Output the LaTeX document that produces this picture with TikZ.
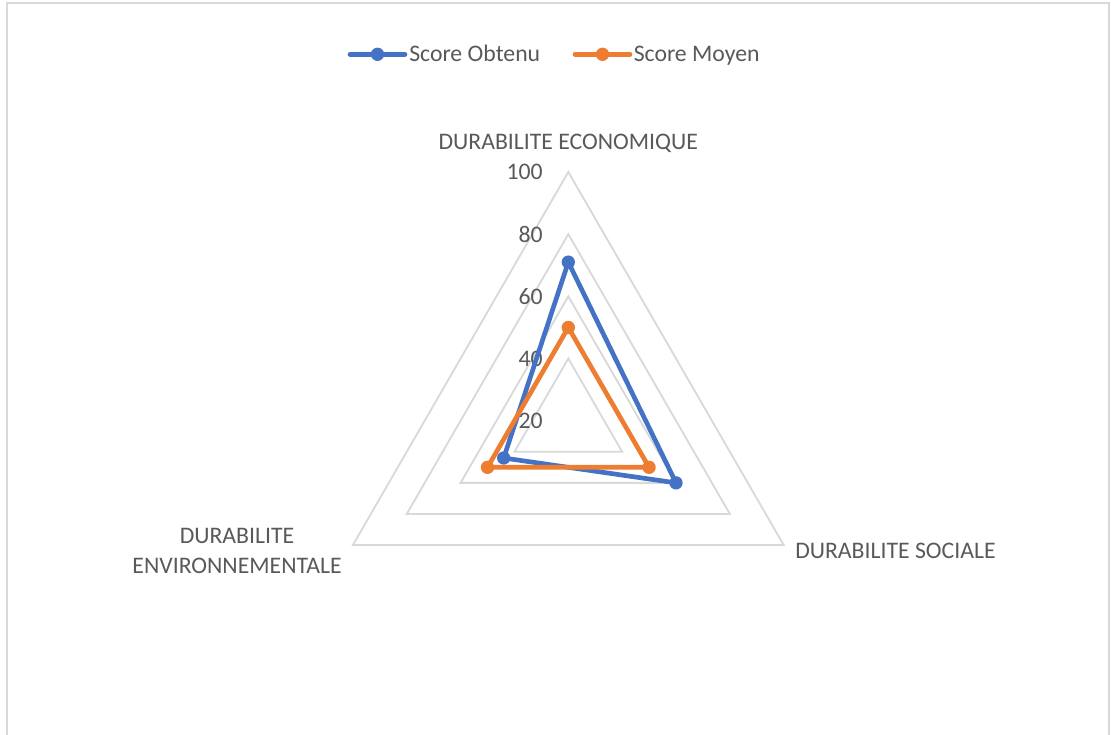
\documentclass[tikz,border=0pt]{standalone}
\usepackage{fontspec}
\setmainfont{Carlito}
\usetikzlibrary{calc}

\definecolor{obtenu}{HTML}{4472C4}
\definecolor{moyen}{HTML}{ED7D31}
\definecolor{grille}{HTML}{D9D9D9}
\definecolor{texte}{HTML}{595959}

\def\ech{3.109}

\begin{document}
\begin{tikzpicture}[x=0.75pt,y=0.75pt,
	lbl/.style={text=texte,font=\fontsize{17.8}{21}\selectfont,inner sep=0pt},
	ring/.style={draw=grille,line width=1.4pt,line join=miter},
	serie/.style={line width=3.5pt,line join=round,line cap=round}]

	\useasboundingbox (0,0) rectangle (1111,735);
	% frame, open at the bottom
	\draw[grille,line width=1.5pt] (7,-10) -- (7,731.7) -- (1109.3,731.7) -- (1109.3,-10);

	\coordinate (O) at (568.3,314.3);

	% grid
	\foreach \v in {40,60,80,100}
		\draw[ring,shift={(O)}] (90:{(\v-20)*\ech}) -- (-30:{(\v-20)*\ech}) -- (210:{(\v-20)*\ech}) -- cycle;
	\foreach \v in {20,40,...,100}
		\node[lbl,anchor=east] (t\v) at ($(O)+(-25.3,{(\v-20)*\ech})$) {\v};

	% axes
	\node[lbl,anchor=base] (eco) at (568.3,585) {DURABILITE ECONOMIQUE};
	\node[lbl,anchor=base west] (soc) at (795,176) {DURABILITE SOCIALE};
	\node[lbl,anchor=base] (env1) at (237,191.7) {DURABILITE};
	\node[lbl,anchor=base] (env2) at (237,161.7) {ENVIRONNEMENTALE};

	% series
	\coordinate (ob1) at ($(O)+(90:{(71-20)*\ech})$);
	\coordinate (ob2) at ($(O)+(-30:{(60-20)*\ech})$);
	\coordinate (ob3) at ($(O)+(210:{(44-20)*\ech})$);
	\coordinate (mo1) at ($(O)+(90:{(50-20)*\ech})$);
	\coordinate (mo2) at ($(O)+(-30:{(50-20)*\ech})$);
	\coordinate (mo3) at ($(O)+(210:{(50-20)*\ech})$);

	\draw[serie,obtenu] (ob1) -- (ob2) -- (ob3) -- cycle;
	\foreach \p in {ob1,ob2,ob3}
		\fill[obtenu] (\p) circle (5pt);
	\draw[serie,moyen] (mo1) -- (mo2) -- (mo3) -- cycle;
	\foreach \p in {mo1,mo2,mo3}
		\fill[moyen] (\p) circle (5pt);

	% legend
	\coordinate (la) at (350,680.7);
	\coordinate (lb) at (405,680.7);
	\draw[serie,obtenu] (la) -- (lb);
	\fill[obtenu] ($(la)!0.5!(lb)$) circle (5pt);
	\node[lbl,anchor=base west] (lob) at (409,673.3) {Score Obtenu};
	\coordinate (lc) at (575,680.7);
	\coordinate (ld) at (630,680.7);
	\draw[serie,moyen] (lc) -- (ld);
	\fill[moyen] ($(lc)!0.5!(ld)$) circle (5pt);
	\node[lbl,anchor=base west] (lmo) at (633.5,673.3) {Score Moyen};
\end{tikzpicture}
\end{document}
